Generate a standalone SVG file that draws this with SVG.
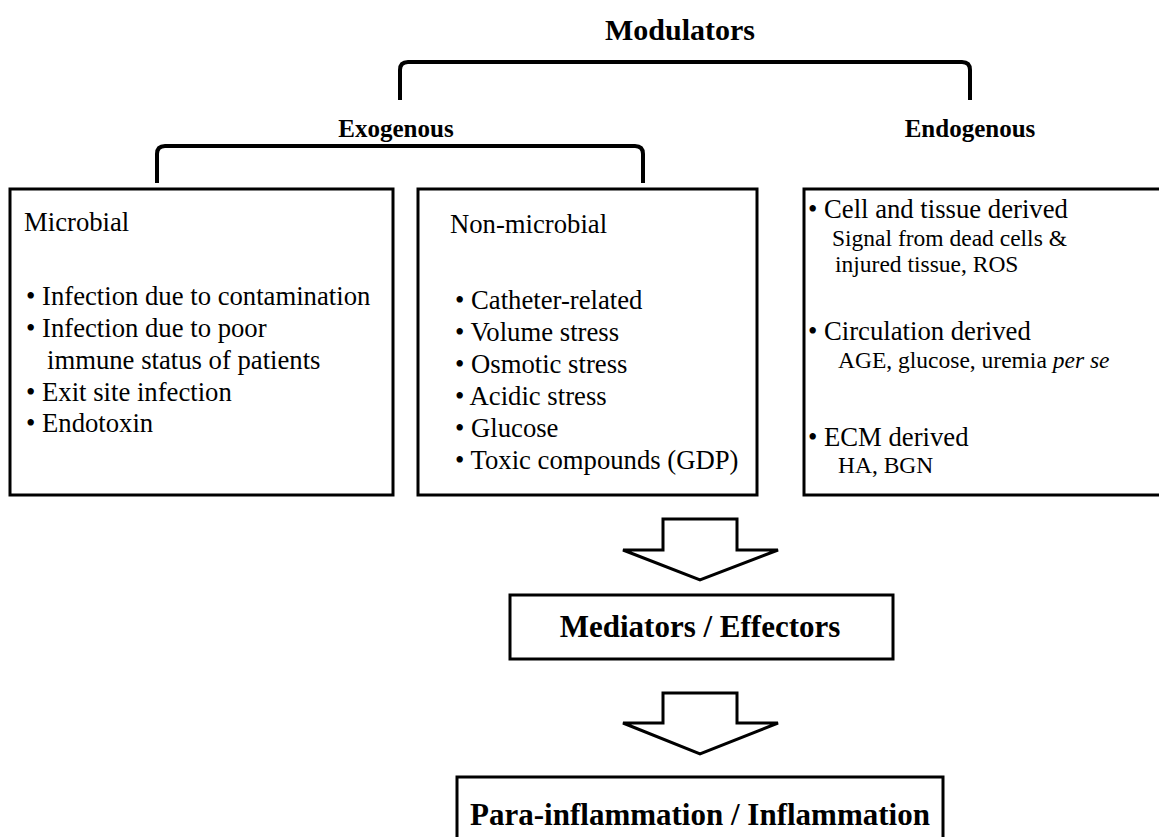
<svg xmlns="http://www.w3.org/2000/svg" width="1159" height="837" viewBox="0 0 1159 837">
<style>
text{font-family:"Liberation Serif","Times New Roman",serif;fill:#000}
.b{font-weight:bold}
.body{font-size:26.7px}
.sub{font-size:23.5px}
.box{fill:#fff;stroke:#000;stroke-width:3}
.br{fill:none;stroke:#000;stroke-width:4}
.arr{fill:#fff;stroke:#000;stroke-width:3;stroke-linejoin:miter}
</style>
<rect width="1159" height="837" fill="#fff"/>
<g id="connectors">
<path class="br" d="M400,100 L400,70 Q400,62 408,62 L962,62 Q970,62 970,70 L970,100"/>
<path class="br" d="M157,183 L157,154 Q157,146 165,146 L635,146 Q643,146 643,154 L643,183"/>
<polygon class="arr" points="663,519 737,519 737,550 778,550 700,580 623,550 663,550"/>
<polygon class="arr" points="663,693 737,693 737,723 778,723 700,754 623,723 663,723"/>
</g>
<g id="modulators" font-family="Liberation Serif, serif">
<text class="b" x="680" y="40" font-size="30" text-anchor="middle">Modulators</text>
</g>
<g id="exogenous" font-family="Liberation Serif, serif">
<text class="b" x="396" y="137" font-size="25" text-anchor="middle">Exogenous</text>
</g>
<g id="endogenous" font-family="Liberation Serif, serif">
<text class="b" x="970" y="137" font-size="25" text-anchor="middle">Endogenous</text>
</g>
<g id="microbial" font-family="Liberation Serif, serif">
<rect class="box" x="10" y="189" width="383" height="306"/>
<text class="body" x="24" y="231">Microbial</text>
<text class="body" x="26" y="305">• Infection due to contamination</text>
<text class="body" x="26" y="337">• Infection due to poor</text>
<text class="body" x="47" y="369">immune status of patients</text>
<text class="body" x="26" y="401">• Exit site infection</text>
<text class="body" x="26" y="432">• Endotoxin</text>
</g>
<g id="non-microbial" font-family="Liberation Serif, serif">
<rect class="box" x="418" y="189" width="339" height="306"/>
<text class="body" x="450" y="233">Non-microbial</text>
<text class="body" x="455" y="309">• Catheter-related</text>
<text class="body" x="455" y="341">• Volume stress</text>
<text class="body" x="455" y="373">• Osmotic stress</text>
<text class="body" x="455" y="405">• Acidic stress</text>
<text class="body" x="455" y="437">• Glucose</text>
<text class="body" x="455" y="469">• Toxic compounds (GDP)</text>
</g>
<g id="endogenous-box" font-family="Liberation Serif, serif">
<rect class="box" x="804" y="189" width="362" height="306"/>
<text class="body" x="808" y="218">• Cell and tissue derived</text>
<text class="sub" x="832" y="246">Signal from dead cells &amp;</text>
<text class="sub" x="835" y="272">injured tissue, ROS</text>
<text class="body" x="808" y="340">• Circulation derived</text>
<text class="sub" x="838" y="368">AGE, glucose, uremia <tspan font-style="italic">per se</tspan></text>
<text class="body" x="808" y="446">• ECM derived</text>
<text class="sub" x="838" y="473">HA, BGN</text>
</g>
<g id="mediators" font-family="Liberation Serif, serif">
<rect class="box" x="510" y="595" width="383" height="64"/>
<text class="b" x="700" y="637" font-size="31" text-anchor="middle">Mediators / Effectors</text>
</g>
<g id="inflammation" font-family="Liberation Serif, serif">
<rect class="box" x="457" y="777" width="486" height="80"/>
<text class="b" x="700" y="825" font-size="31" text-anchor="middle">Para-inflammation / Inflammation</text>
</g>
</svg>
